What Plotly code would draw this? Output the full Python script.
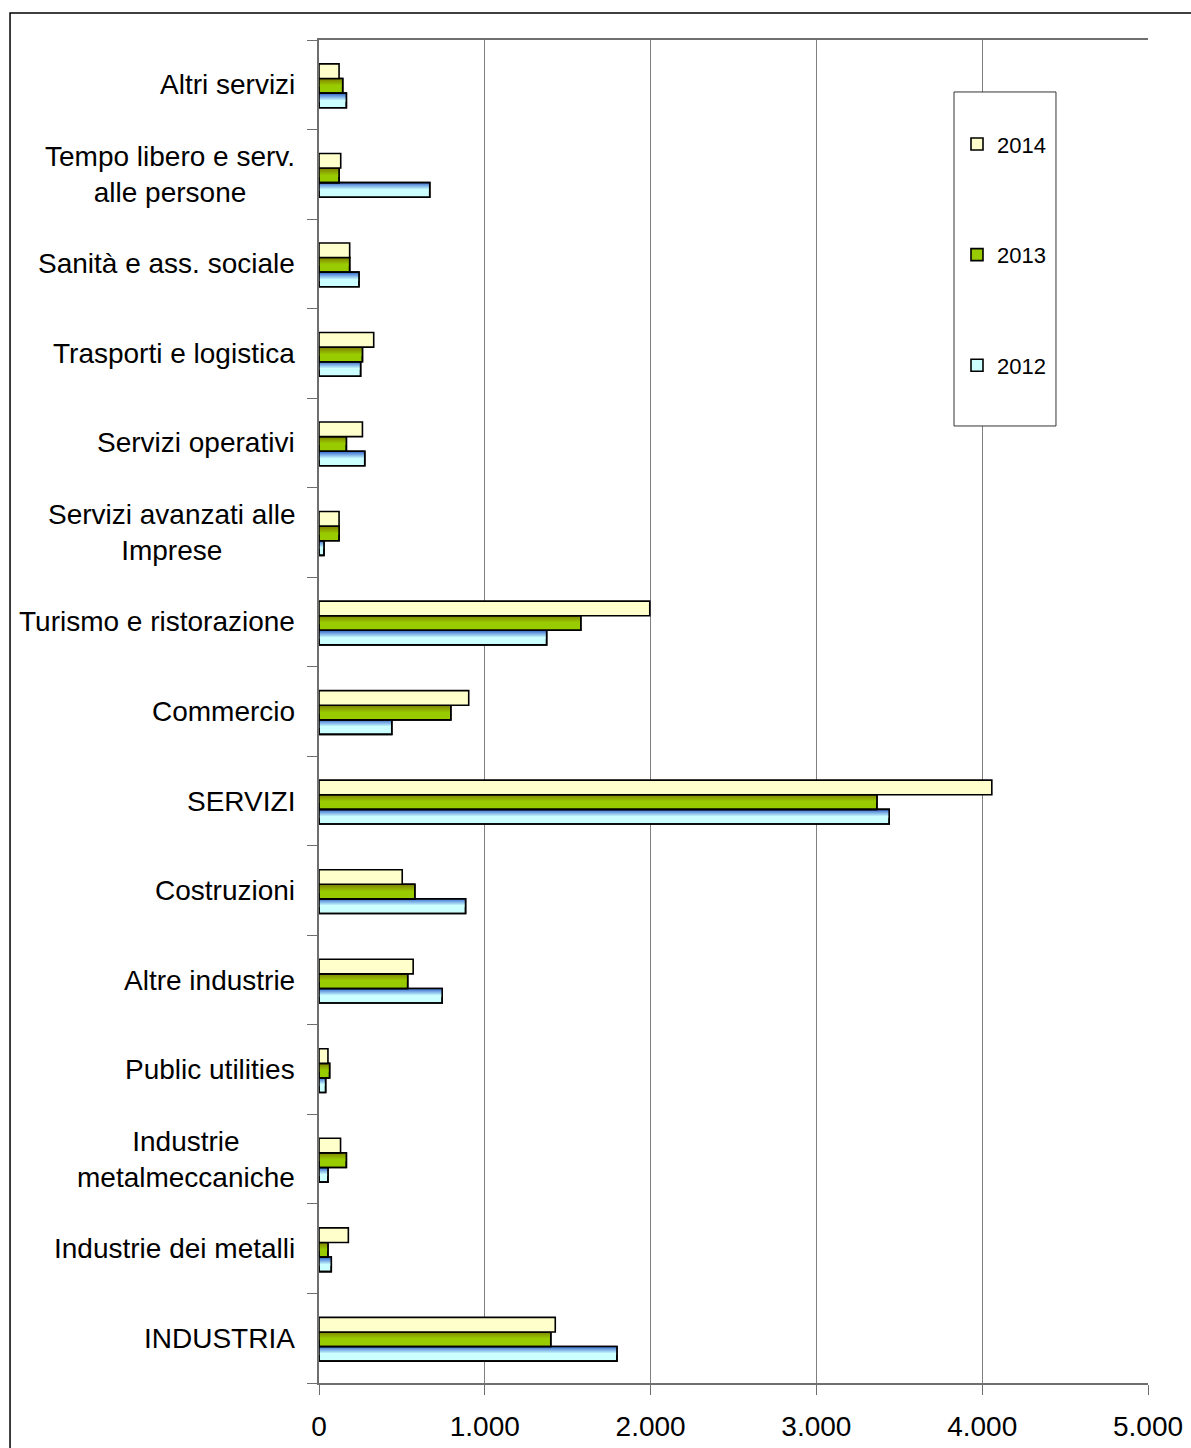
import plotly.graph_objects as go

# Sector categories, listed bottom to top
categories = [
    "INDUSTRIA", "Industrie dei metalli", "Industrie metalmeccaniche",
    "Public utilities", "Altre industrie", "Costruzioni", "SERVIZI",
    "Commercio", "Turismo e ristorazione", "Servizi avanzati alle Imprese",
    "Servizi operativi", "Trasporti e logistica", "Sanità e ass. sociale",
    "Tempo libero e serv. alle persone", "Altri servizi",
]
category_labels = [
    "INDUSTRIA", "Industrie dei metalli", "Industrie<br>metalmeccaniche",
    "Public utilities", "Altre industrie", "Costruzioni", "SERVIZI",
    "Commercio", "Turismo e ristorazione", "Servizi avanzati alle<br>Imprese",
    "Servizi operativi", "Trasporti e logistica", "Sanità e ass. sociale",
    "Tempo libero e serv.<br>alle persone", "Altri servizi",
]

values_2012 = [1797, 74, 54, 40, 743, 884, 3439, 439, 1373, 30, 276, 251, 241, 668, 165]
values_2013 = [1398, 54, 165, 64, 535, 578, 3365, 795, 1579, 121, 165, 262, 185, 121, 143]
values_2014 = [1425, 177, 130, 54, 568, 502, 4058, 903, 1995, 121, 262, 330, 185, 131, 121]

x_tickvals = [0, 1000, 2000, 3000, 4000, 5000]
x_ticktext = ["0", "1.000", "2.000", "3.000", "4.000", "5.000"]

FONT = "Liberation Sans, Arial, sans-serif"
BAR_W = 0.163
N_BANDS = 8

# name, values, offset, top colour, bottom colour, fraction of bar height shaded
series = [
    ("2012", values_2012, -0.256, (51, 102, 204), (204, 255, 255), 0.55),
    ("2013", values_2013, -0.093, (128, 128, 0), (153, 204, 0), 0.55),
    ("2014", values_2014, 0.070, (255, 255, 204), (255, 255, 204), 0.0),
]


def rgb(c):
    return "rgb(%d,%d,%d)" % tuple(int(round(v)) for v in c)


fig = go.Figure()
for name, vals, off, top_c, bot_c, frac in series:
    # base bar with outline (also used for the legend entry)
    fig.add_trace(go.Bar(
        y=categories, x=vals, orientation="h", name=name,
        legendgroup=name, legendrank=3000 - int(name),
        offset=off, width=BAR_W,
        marker=dict(color=rgb(bot_c), line=dict(color="black", width=1.6)),
        hoverinfo="x+name",
    ))
    # vertical shading toward the top edge of each bar
    if frac > 0:
        band = BAR_W * frac / N_BANDS
        for k in range(N_BANDS):
            t = k / (N_BANDS - 1)
            col = [top_c[i] + (bot_c[i] - top_c[i]) * t for i in range(3)]
            fig.add_trace(go.Bar(
                y=categories, x=vals, orientation="h", showlegend=False,
                legendgroup=name, offset=off + BAR_W - (k + 1) * band,
                width=band * 1.05,
                marker=dict(color=rgb(col), line=dict(width=0)),
                hoverinfo="skip",
            ))
        # outline redrawn over the shading
        fig.add_trace(go.Bar(
            y=categories, x=vals, orientation="h", showlegend=False,
            legendgroup=name, offset=off, width=BAR_W,
            marker=dict(color="rgba(0,0,0,0)", line=dict(color="black", width=1.6)),
            hoverinfo="skip",
        ))

# category labels, centred line by line and right-aligned next to the axis
annotations = [
    dict(x=-0.0265, xref="paper", y=cat, yref="y", text=lab,
         xanchor="right", yanchor="middle", align="center", showarrow=False,
         font=dict(family=FONT, size=28, color="black"))
    for cat, lab in zip(categories, category_labels)
]

shapes = [
    # outer frame
    dict(type="rect", xref="paper", yref="paper", x0=-0.3727, x1=1.2,
         y0=-0.2, y1=1.0201, line=dict(color="black", width=1.5),
         fillcolor="rgba(0,0,0,0)", layer="above"),
    # legend box
    dict(type="rect", xref="paper", yref="paper", x0=0.766, x1=0.889,
         y0=0.7126, y1=0.9613, line=dict(color="#333333", width=1),
         fillcolor="white", layer="above"),
]

fig.update_layout(
    width=1191, height=1448,
    margin=dict(l=319, r=43, t=40, b=65, autoexpand=False),
    barmode="overlay",
    plot_bgcolor="white", paper_bgcolor="white",
    font=dict(family=FONT, color="black"),
    showlegend=True,
    legend=dict(
        x=0.7696, y=0.938, xanchor="left", yanchor="top",
        traceorder="grouped", tracegroupgap=79,
        bgcolor="rgba(0,0,0,0)", borderwidth=0,
        font=dict(family=FONT, size=22, color="black"),
    ),
    annotations=annotations,
    shapes=shapes,
    xaxis=dict(
        range=[0, 5000], tickvals=x_tickvals, ticktext=x_ticktext,
        showgrid=True, gridcolor="#7f7f7f", gridwidth=1,
        showline=True, linecolor="#6f6f6f", linewidth=1.5, mirror=True,
        ticks="outside", ticklen=10, tickcolor="#6f6f6f",
        ticklabelstandoff=8, automargin=False,
        tickfont=dict(family=FONT, size=28, color="black"),
        zeroline=False,
    ),
    yaxis=dict(
        type="category", categoryorder="array", categoryarray=categories,
        range=[-0.5, len(categories) - 0.5], automargin=False,
        showticklabels=False, showgrid=False,
        showline=True, linecolor="#6f6f6f", linewidth=1.5,
        ticks="outside", ticklen=10, tickcolor="#6f6f6f",
        tickson="boundaries",
    ),
)

fig.write_html("out.html")
